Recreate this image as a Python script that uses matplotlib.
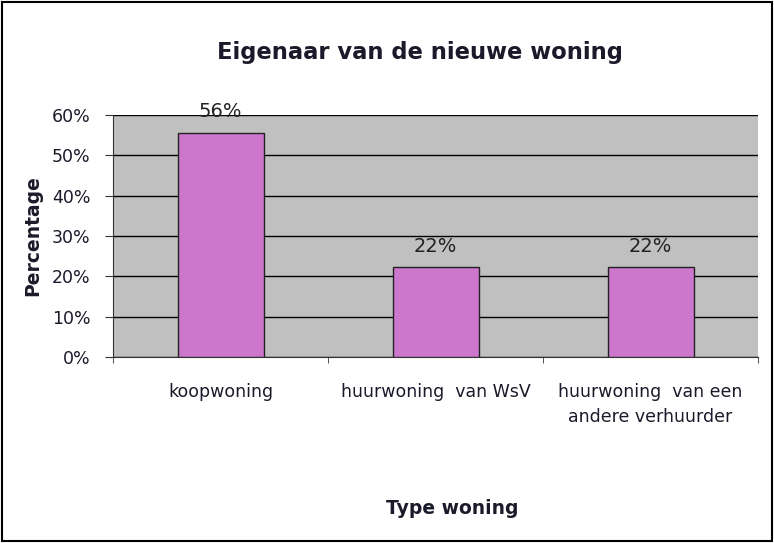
import matplotlib
matplotlib.use('Agg')
from matplotlib import pyplot as plt

# data
categories = ['koopwoning', 'huurwoning  van WsV', 'huurwoning  van een\nandere verhuurder']
values = [0.5556, 0.2222, 0.2222]
value_labels = ['56%', '22%', '22%']
y_ticks = [0, 0.1, 0.2, 0.3, 0.4, 0.5, 0.6]
y_tick_labels = ['0%', '10%', '20%', '30%', '40%', '50%', '60%']

fig = plt.figure(figsize=(7.74, 5.43), dpi=100)
ax = fig.add_axes([113 / 774, 1 - 357 / 543, (758 - 113) / 774, (357 - 115) / 543])
ax.set_facecolor('#c0c0c0')

x = range(len(categories))
ax.bar(x, values, width=0.4, color='#cc77cc', edgecolor='#222222', linewidth=1, zorder=3)
for xi, v, lab in zip(x, values, value_labels):
    ax.text(xi, v + 0.052, lab, ha='center', va='center', fontsize=14, color='#222222')

ax.set_xlim(-0.5, 2.5)
ax.set_ylim(0, 0.6)
ax.set_yticks(y_ticks)
ax.set_yticklabels(y_tick_labels, fontsize=12.5, color='#1a1a2a')
ax.yaxis.grid(True, color='black', linewidth=1, zorder=1)
ax.set_axisbelow(True)

ax.set_xticks(list(x))
ax.set_xticklabels(categories, fontsize=12.5, color='#1a1a2a', linespacing=1.45)
ax.tick_params(axis='x', which='major', length=0, pad=19)
ax.set_xticks([-0.5, 0.5, 1.5, 2.5], minor=True)
ax.tick_params(axis='x', which='minor', length=4.5, color='#333333')
ax.tick_params(axis='y', length=6, color='#333333', pad=10)

for s in ['top', 'right']:
    ax.spines[s].set_visible(False)
for s in ['left', 'bottom']:
    ax.spines[s].set_color('#333333')

ax.set_ylabel('Percentage', fontsize=13.5, fontweight='bold', color='#1a1a2a')
ax.yaxis.set_label_coords((42 - 113) / 645, 0.5)
fig.text(452 / 774, 1 - 508 / 543, 'Type woning', ha='center', va='center',
         fontsize=13.5, fontweight='bold', color='#1a1a2a')
fig.text(420 / 774, 1 - 52 / 543, 'Eigenaar van de nieuwe woning', ha='center', va='center',
         fontsize=16.3, fontweight='bold', color='#1a1a2a')

fig.patches.append(plt.Rectangle((0.002, 0.003), 0.996, 0.994, transform=fig.transFigure,
                                 fill=False, edgecolor='black', linewidth=1.5))

fig.savefig('out.png', dpi=100)
